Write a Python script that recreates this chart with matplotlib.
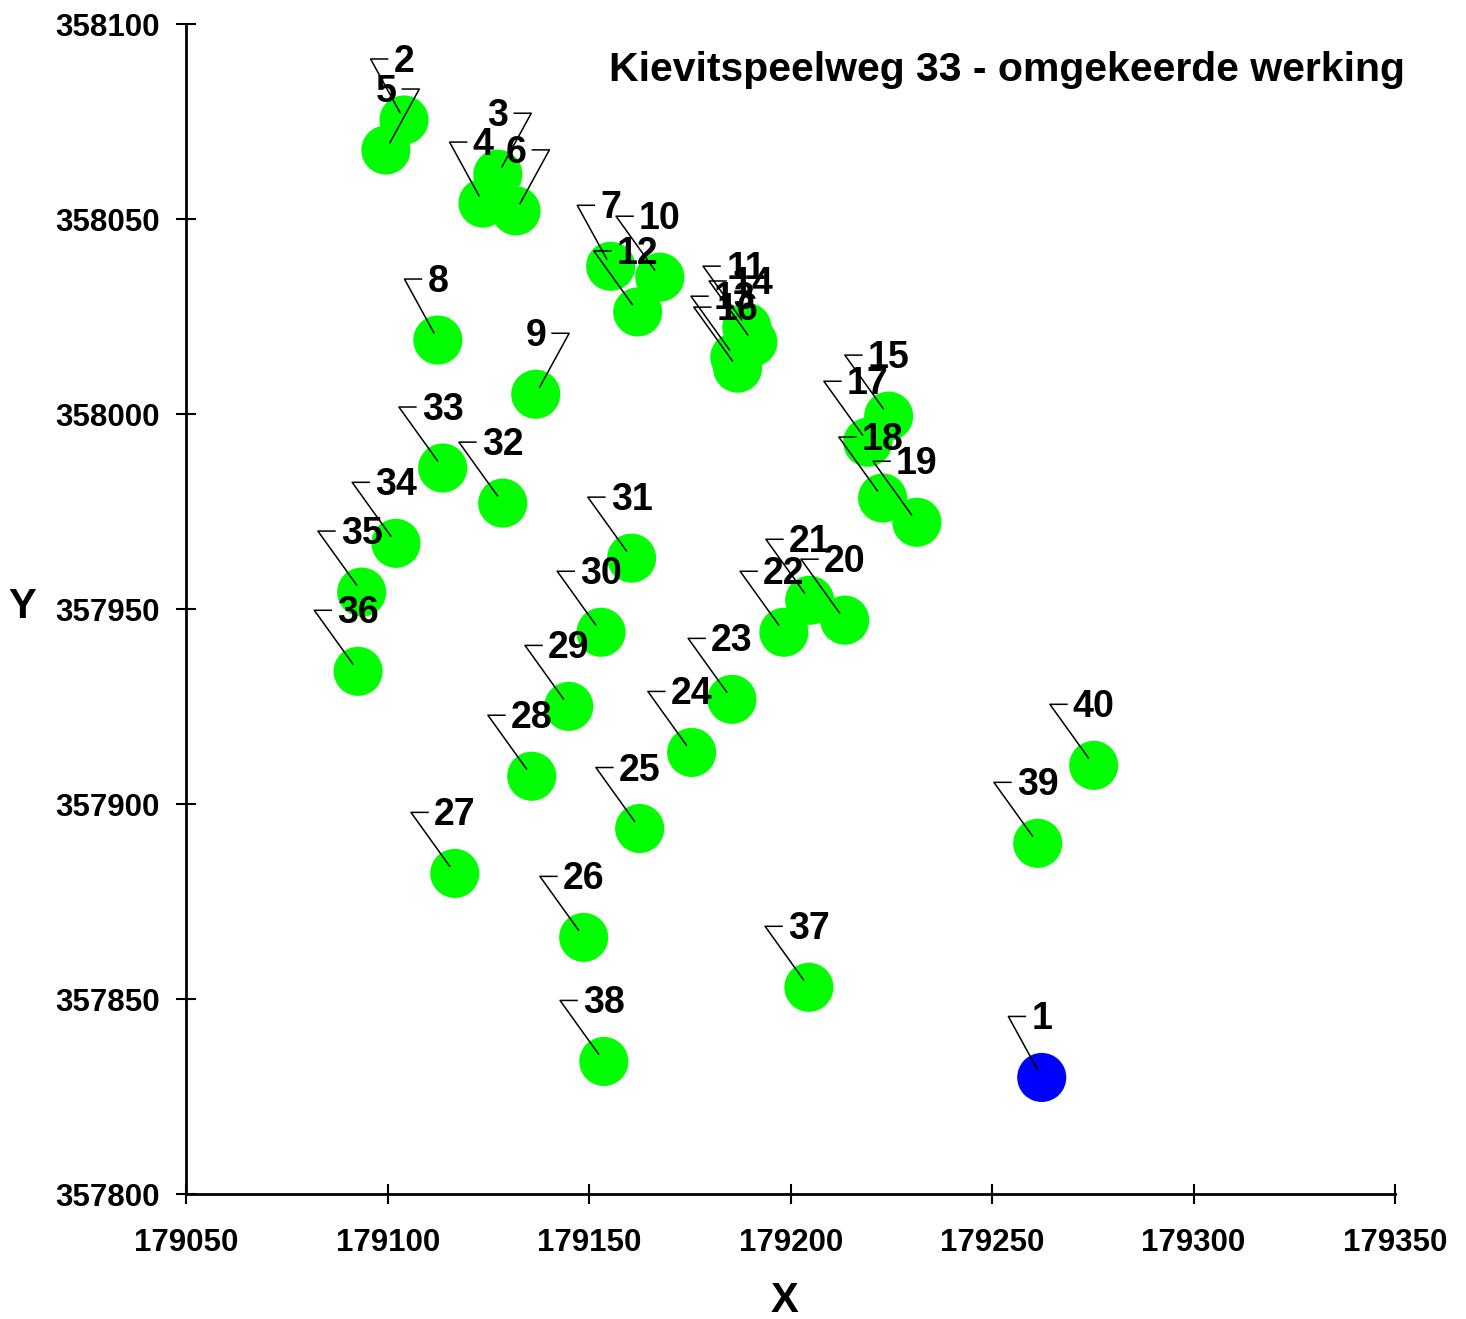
import matplotlib
matplotlib.use("Agg")
import matplotlib.pyplot as plt
from matplotlib.transforms import ScaledTranslation

# -----------------------------
# Well positions (RD coordinates)
# -----------------------------

ids = list(range(1, 41))

x = [179262.3, 179104.0, 179127.3, 179123.6, 179099.5, 179131.8, 179155.3, 179112.4,
     179136.7, 179167.5, 179189.1, 179162.0, 179186.1, 179190.6, 179224.3, 179186.8,
     179219.1, 179222.8, 179231.3, 179213.4, 179204.7, 179198.3, 179185.4, 179175.4,
     179162.5, 179148.6, 179116.6, 179135.7, 179144.9, 179152.9, 179160.5, 179128.5,
     179113.6, 179102.0, 179093.5, 179092.6, 179204.5, 179153.6, 179261.3, 179275.2]

y = [357830.0, 358075.4, 358061.5, 358054.1, 358067.7, 358052.1, 358037.9, 358019.0,
     358005.1, 358035.1, 358022.3, 358026.2, 358014.6, 358018.5, 357999.5, 358011.8,
     357992.8, 357978.5, 357972.3, 357947.2, 357952.3, 357944.1, 357926.9, 357913.3,
     357893.8, 357865.9, 357882.3, 357907.2, 357925.1, 357944.1, 357963.1, 357977.2,
     357986.2, 357966.9, 357954.4, 357934.1, 357853.1, 357834.1, 357890.0, 357910.0]

title = "Kievitspeelweg 33 - omgekeerde werking"
xticks = [179050, 179100, 179150, 179200, 179250, 179300, 179350]
yticks = [357800, 357850, 357900, 357950, 358000, 358050, 358100]

# labels whose leader sits on the right side
right_side = {3, 5, 6, 9}

FONT = "Liberation Sans"
plt.rcParams["font.family"] = [FONT, "DejaVu Sans"]
plt.rcParams["font.weight"] = "bold"

fig = plt.figure(figsize=(14.66, 13.19), dpi=100)
ax = fig.add_axes([0.1272, 0.0944, 0.8244, 0.8874])

colors = ["#0000ff" if i == 1 else "#00ff00" for i in ids]
ax.scatter(x, y, s=1250, c=colors, edgecolors="none", zorder=2)

# labels with bent leader lines (offsets in pixels)
digit_w = 20.8
for i, xi, yi in zip(ids, x, y):
    tr = ScaledTranslation(xi, yi, ax.transData)
    lab = str(i)
    half = len(lab) * digit_w / 2
    sgn = 1 if i in right_side else -1
    cx = sgn * (half + 6 + 17)
    cy = 61
    hx = sgn * (half + 6)
    ax.plot([cx * 0.12, cx, hx], [cy * 0.12, cy, cy], color="black", lw=1.1,
            transform=tr, zorder=3, clip_on=False)
    ax.text(0, 48, lab, transform=tr, ha="center", va="baseline",
            fontsize=27, fontweight="bold", zorder=4)

ax.set_xlim(179050, 179350)
ax.set_ylim(357800, 358100)
ax.set_xticks(xticks)
ax.set_yticks(yticks)
ax.set_xticklabels([str(t) for t in xticks])
ax.set_yticklabels([str(t) for t in yticks])

for s in ["top", "right"]:
    ax.spines[s].set_visible(False)
for s in ["left", "bottom"]:
    ax.spines[s].set_linewidth(2)

ax.tick_params(axis="both", direction="inout", length=14, width=1.5,
               labelsize=22.5)
ax.tick_params(axis="x", pad=17)
ax.tick_params(axis="y", pad=12)
for t in ax.get_xticklabels() + ax.get_yticklabels():
    t.set_fontweight("bold")

ax.set_xlabel("X", fontsize=30, fontweight="bold")
ax.xaxis.set_label_coords(0.495, -0.074)
ax.set_ylabel("Y", fontsize=30, fontweight="bold", rotation=0, ha="center", va="center")
ax.yaxis.set_label_coords(-0.136, 0.502)

ax.text(1.008, 0.9607, title, transform=ax.transAxes,
        ha="right", va="center", fontsize=29.5, fontweight="bold")

fig.savefig("out.png", dpi=100)
plt.close(fig)
